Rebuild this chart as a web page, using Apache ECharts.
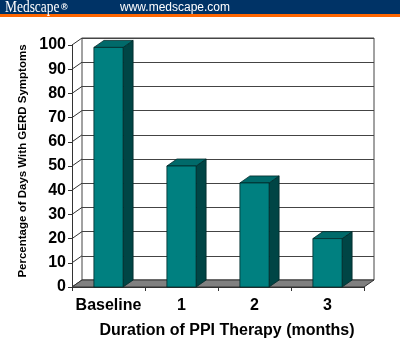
<!DOCTYPE html>
<html><head><meta charset="utf-8">
<script src="https://cdn.jsdelivr.net/npm/echarts@6/dist/echarts.min.js"></script>
<style>html,body{margin:0;padding:0;background:#fff}#c{width:400px;height:355px}</style>
</head><body><div id="c"></div>
<script>
const categories = ['Baseline', '1', '2', '3'];
const values = [99, 50, 43, 20];
const yTicks = [0, 10, 20, 30, 40, 50, 60, 70, 80, 90, 100];
const yTitle = 'Percentage of Days With GERD Symptoms';
const xTitle = 'Duration of PPI Therapy (months)';

const DX = 10, DY = -7;
const SANS = '"Liberation Sans", Arial, sans-serif';
const FRONT = '#008080', TOP = '#006a6a', SIDE = '#004545', EDGE = '#002a2a';

const chart = echarts.init(document.getElementById('c'), null, {renderer: 'canvas'});
chart.setOption({
  animation: false,
  backgroundColor: '#fff',
  grid: [
    {left: 72, right: 36, top: 45, bottom: 68, show: false},
    {left: 82, right: 26, top: 38, bottom: 75, show: true, backgroundColor: '#fff', borderColor: '#444', borderWidth: 1}
  ],
  xAxis: [
    {gridIndex: 0, type: 'category', data: categories, boundaryGap: true,
     axisLine: {show: true, lineStyle: {color: '#333', width: 1}},
     axisTick: {show: true, length: 4, lineStyle: {color: '#333'}},
     axisLabel: {interval: 0, color: '#000', fontFamily: SANS, fontWeight: 'bold', fontSize: 16, margin: 11},
     name: xTitle, nameLocation: 'middle', nameGap: 36,
     nameTextStyle: {color: '#000', fontFamily: SANS, fontWeight: 'bold', fontSize: 16, padding: [0, 0, 0, 18]}},
    {gridIndex: 1, type: 'category', data: categories, show: false}
  ],
  yAxis: [
    {gridIndex: 0, type: 'value', min: yTicks[0], max: yTicks[yTicks.length - 1], interval: yTicks[1] - yTicks[0],
     axisLine: {show: true, lineStyle: {color: '#333', width: 1}},
     axisTick: {show: true, length: 4, lineStyle: {color: '#333'}},
     splitLine: {show: false},
     axisLabel: {color: '#000', fontFamily: SANS, fontWeight: 'bold', fontSize: 16, margin: 6}},
    {gridIndex: 1, type: 'value', min: yTicks[0], max: yTicks[yTicks.length - 1], interval: yTicks[1] - yTicks[0],
     axisLine: {show: false}, axisTick: {show: false}, axisLabel: {show: false},
     splitLine: {show: true, lineStyle: {color: '#444', width: 1}}}
  ],
  graphic: [
    {type: 'rect', shape: {x: 0, y: 0, width: 400, height: 14}, style: {fill: '#003366'}, z: 10},
    {type: 'rect', shape: {x: 0, y: 14, width: 400, height: 3}, style: {fill: '#ff6600'}, z: 10},
    {type: 'text', x: 5, y: 8, scaleX: 0.84, z: 11, style: {text: 'Medscape', fill: '#fff', font: '16px "Liberation Serif", "Times New Roman", serif', textVerticalAlign: 'middle'}},
    {type: 'text', x: 61, y: 8, z: 11, style: {text: '®', fill: '#fff', font: 'bold 9px "Liberation Sans", Arial, sans-serif', textVerticalAlign: 'middle'}},
    {type: 'text', x: 120, y: 8, z: 11, style: {text: 'www.medscape.com', fill: '#fff', font: '12px "Liberation Sans", Arial, sans-serif', textVerticalAlign: 'middle'}},
    {type: 'text', x: 23, y: 161, rotation: Math.PI / 2, z: 11,
     style: {text: yTitle, fill: '#000', font: 'bold 11.5px "Liberation Sans", Arial, sans-serif', textAlign: 'center', textVerticalAlign: 'middle'}}
  ],
  series: [
    {type: 'custom', xAxisIndex: 0, yAxisIndex: 0, z: 2, clip: false,
     data: yTicks.map(v => [categories[0], v]),
     renderItem: function (params, api) {
       const sys = params.coordSys;
       const p = api.coord([api.value(0), api.value(1)]);
       return {type: 'line', shape: {x1: sys.x, y1: p[1], x2: sys.x + DX, y2: p[1] + DY},
               style: {stroke: '#333', lineWidth: 1}};
     }},
    {type: 'custom', xAxisIndex: 0, yAxisIndex: 0, z: 3, clip: false,
     data: [[categories[0], 0]],
     renderItem: function (params, api) {
       const sys = params.coordSys;
       const yb = api.coord([api.value(0), 0])[1];
       const xl = sys.x, xr = sys.x + sys.width;
       return {type: 'polygon', shape: {points: [[xl, yb], [xr, yb], [xr + DX, yb + DY], [xl + DX, yb + DY]]},
               style: {fill: '#808080', stroke: '#333', lineWidth: 1}};
     }},
    {type: 'custom', xAxisIndex: 0, yAxisIndex: 0, z: 4, clip: false,
     data: categories.map((c, i) => [c, values[i]]),
     renderItem: function (params, api) {
       const top = api.coord([api.value(0), api.value(1)]);
       const base = api.coord([api.value(0), 0]);
       const bw = api.size([1, 0])[0] * 0.4;
       const x0 = top[0] - bw / 2, x1 = top[0] + bw / 2, yt = top[1], yb = base[1];
       return {type: 'group', children: [
         {type: 'polygon', shape: {points: [[x1, yb], [x1, yt], [x1 + DX, yt + DY], [x1 + DX, yb + DY]]},
          style: {fill: SIDE, stroke: EDGE, lineWidth: 0.8}},
         {type: 'polygon', shape: {points: [[x0, yt], [x1, yt], [x1 + DX, yt + DY], [x0 + DX, yt + DY]]},
          style: {fill: TOP, stroke: EDGE, lineWidth: 0.8}},
         {type: 'rect', shape: {x: x0, y: yt, width: bw, height: yb - yt},
          style: {fill: FRONT, stroke: EDGE, lineWidth: 0.8}}
       ]};
     }}
  ]
});
</script></body></html>
